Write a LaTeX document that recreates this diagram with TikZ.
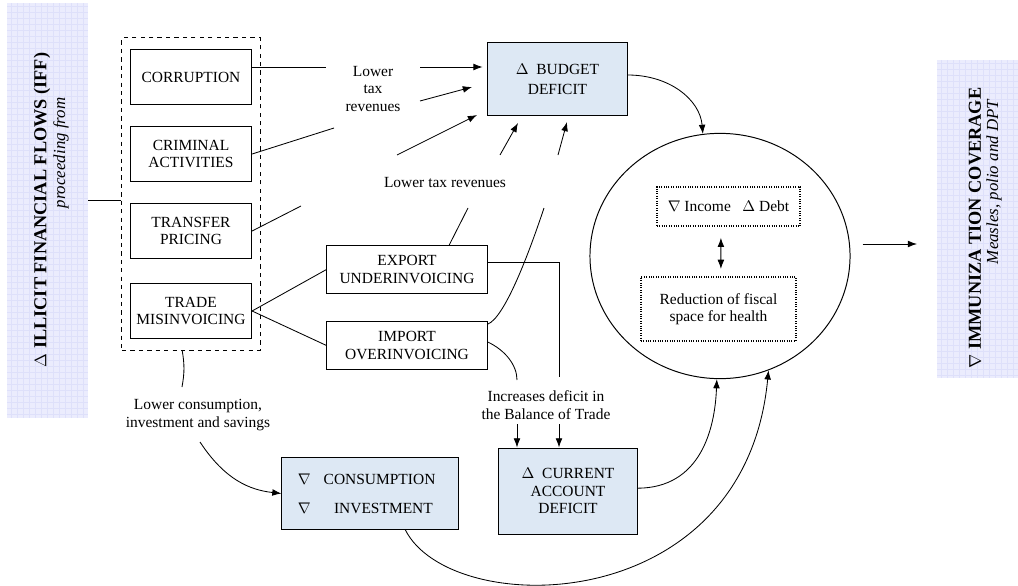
\documentclass[tikz,border=0pt]{standalone}
\usepackage{fontspec}
\setmainfont{Liberation Serif}
\usetikzlibrary{positioning,shapes.geometric,arrows.meta}
\definecolor{boxblue}{RGB}{221,232,244}
\definecolor{bannerfill}{RGB}{235,236,253}
\definecolor{bannergrid}{RGB}{222,224,250}
\begin{document}
\begin{tikzpicture}
		[x=0.025cm,y=-0.025cm,>={Latex[length=2.3mm,width=1.7mm]},
		box/.style={draw,line width=0.7pt,align=center,inner sep=2pt,font=\fontsize{11}{12.5}\selectfont},
		srcbox/.style={box,minimum width=3.03cm,minimum height=1.38cm},
		bluebox/.style={box,fill=boxblue},
		dotbox/.style={box,densely dotted,line width=1.2pt},
		lbl/.style={align=center,font=\fontsize{11}{12.5}\selectfont},
		banner/.style={fill=bannerfill,path picture={\draw[bannergrid,step=0.15cm] (path picture bounding box.south west) grid (path picture bounding box.north east);}},
		conn/.style={line width=0.6pt}]
		\useasboundingbox (0,0) rectangle (1018,585);
		% side banners
		\node[banner,minimum width=2.03cm,minimum height=10.38cm,name=iff]at(47.5,210.5){};
		\node[rotate=90,font=\fontsize{13}{15}\selectfont\bfseries]at(42,210){$\Delta$ ILLICIT FINANCIAL FLOWS (IFF)};
		\node[rotate=90,font=\fontsize{12}{14}\selectfont\itshape]at(61,153){proceeding from};
		\node[banner,minimum width=2.03cm,minimum height=7.95cm,name=immu]at(977.5,219){};
		\node[rotate=90,font=\fontsize{13}{15}\selectfont\bfseries]at(975,228){$\nabla$ IMMUNIZA TION COVERAGE};
		\node[rotate=90,font=\fontsize{12}{14}\selectfont\itshape]at(994,182){Measles, polio and DPT};
		% sources
		\node[draw,dashed,line width=0.7pt,minimum width=3.45cm,minimum height=7.8cm,name=dash]at(191,194){};
		\node[srcbox,name=corr]at(191,77){CORRUPTION};
		\node[srcbox,name=crim]at(191,154){CRIMINAL\\ACTIVITIES};
		\node[srcbox,name=transfer]at(191,231){TRANSFER\\PRICING};
		\node[srcbox,name=trade]at(191,311){TRADE\\MISINVOICING};
		\node[box,minimum width=4cm,minimum height=1.18cm,name=export]at(407,269.5){EXPORT\\UNDERINVOICING};
		\node[box,minimum width=4cm,minimum height=1.18cm,name=import]at(407,345.5){IMPORT\\OVERINVOICING};
		% effects
		\node[bluebox,minimum width=3.48cm,minimum height=1.8cm,font=\fontsize{11}{14}\selectfont,name=budget]at(557.5,79){$\Delta$\ \ BUDGET\\DEFICIT};
		\node[bluebox,minimum width=3.45cm,minimum height=2.15cm,name=current]at(568,491){$\Delta$\ \ CURRENT\\ACCOUNT\\DEFICIT};
		\node[bluebox,align=left,text width=3.6cm,inner xsep=0.4cm,minimum height=1.78cm,name=consum]at(370,493.5){$\nabla$\enspace\ CONSUMPTION\\[8pt]$\nabla$\enspace\quad INVESTMENT};
		\node[draw,ellipse,line width=0.7pt,minimum width=6.5cm,minimum height=6.13cm,name=circ]at(720,256){};
		\node[dotbox,minimum width=3.58cm,minimum height=0.98cm,name=income]at(728.5,206.5){$\nabla$ Income\ \ \ $\Delta$ Debt};
		\node[dotbox,minimum width=3.88cm,minimum height=1.6cm,name=reduct]at(718.5,309){Reduction of fiscal\\space for health};
		% labels
		\node[lbl,name=ltr1]at(373,89){Lower\\tax\\revenues};
		\node[lbl,name=ltr2]at(445,183){Lower tax revenues};
		\node[lbl,name=lcis]at(198,415){Lower consumption,\\investment and savings};
		\node[lbl,name=incdef]at(546,405){Increases deficit in\\the Balance of Trade};
		% break points round the labels
		\coordinate (c1a) at (326,67); \coordinate (c1b) at (420,67);
		\coordinate (c2a) at (334,128); \coordinate (c2b) at (420,101); \coordinate (c2c) at (472,87);
		\coordinate (c3a) at (301,206); \coordinate (c3b) at (397,155); \coordinate (c3c) at (477,115);
		\coordinate (c4a) at (468,208); \coordinate (c4b) at (500,155); \coordinate (c4c) at (518,123);
		\coordinate (c5a) at (544,208); \coordinate (c5b) at (558,155); \coordinate (c5c) at (567,122);
		\coordinate (c6a) at (559,377); \coordinate (c6b) at (559,424);
		\coordinate (c7a) at (517,380); \coordinate (c7b) at (517,424);
		\coordinate (c8a) at (182,387); \coordinate (c8b) at (200,442);
		\coordinate (c9a) at (88,200); \coordinate (c9b) at (917,244);
		% connectors
		\draw[conn] (c9a) -- (dash.west |- c9a);
		\draw[conn] (corr.east |- c1a) -- (c1a);
		\draw[conn,->] (c1b) -- ([xshift=-0.12cm]budget.west |- c1b);
		\draw[conn] (crim.east) -- (c2a);
		\draw[conn,->] (c2b) -- (c2c);
		\draw[conn] (transfer.east) -- (c3a);
		\draw[conn,->] (c3b) -- (c3c);
		\draw[conn] (trade.east) -- (export.west);
		\draw[conn] (trade.east) -- (import.west);
		\draw[conn] ([xshift=1.05cm]export.north) -- (c4a);
		\draw[conn,->] (c4b) -- (c4c);
		\draw[conn] ([yshift=-0.07cm]import.north east) .. controls (505,318) and (530,250) .. (c5a);
		\draw[conn,->] (c5b) -- (c5c);
		\draw[conn] ([yshift=0.18cm]export.east) -| (c6a);
		\draw[conn,->] (c6b) -- (current.north -| c6b);
		\draw[conn] ([yshift=0.09cm]import.east) .. controls (505,350) and (517,365) .. (c7a);
		\draw[conn,->] (c7b) -- (current.north -| c7b);
		\draw[conn] ([xshift=-0.22cm]dash.south) to[bend left=10] (c8a);
		\draw[conn,->] (c8b) .. controls (225,480) and (250,490) .. (consum.west);
		\draw[conn,->] ([yshift=0.1cm]budget.east) .. controls (670,75) and (700,100) .. (circ.98);
		\draw[conn,->] ([yshift=0.07cm]current.east) .. controls (700,488) and (715,430) .. ([xshift=-0.08cm]circ.south);
		\draw[conn,->] ([xshift=0.88cm]consum.south) .. controls (450,620) and (745,620) .. (circ.-67);
		\draw[conn,<->] ([xshift=-0.19cm,yshift=-0.27cm]income.south) -- ([xshift=0.06cm,yshift=0.18cm]reduct.north);
		\draw[conn,->] ([xshift=0.3cm]circ.east |- c9b) -- (c9b);
	\end{tikzpicture}
\end{document}
